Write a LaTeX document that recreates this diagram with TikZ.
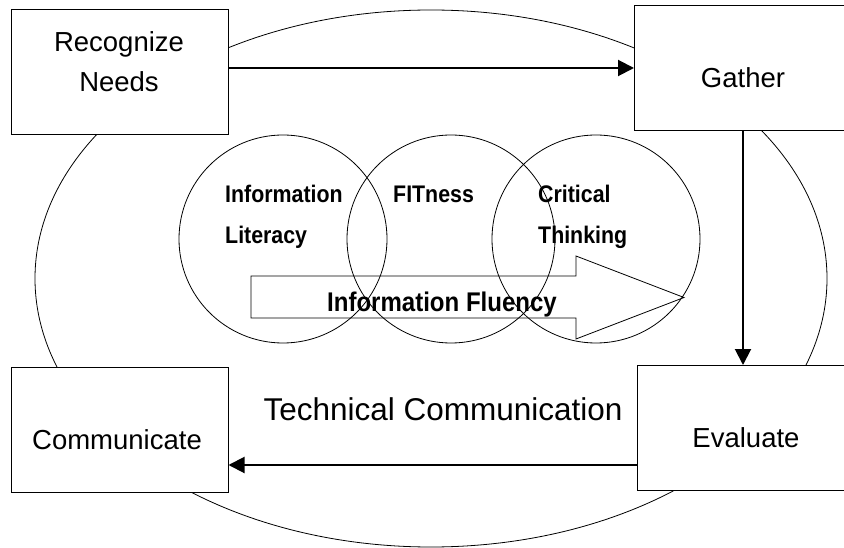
\documentclass[tikz,border=0pt]{standalone}
\usepackage{fontspec}
\setmainfont{Liberation Sans}
\newfontfamily\narrowfont[FakeStretch=0.89]{Liberation Sans Bold}
\usepackage{tikz}
\usetikzlibrary{calc}
\usetikzlibrary{arrows.meta}
\usetikzlibrary{positioning}
\tikzset{>={Triangle[length=16pt, width=16pt]}}
\tikzstyle{stepbox} = [rectangle, draw=black, line width=1pt, fill=white, minimum width=217pt, minimum height=125pt, inner sep=0]
\tikzstyle{boxtext} = [draw=none, inner sep=0, anchor=base, font=\fontsize{27.5}{40}\selectfont]
\tikzstyle{ringtext} = [draw=none, inner sep=0, anchor=base west, align=left, font=\narrowfont\fontsize{24}{41}\selectfont]
\tikzstyle{area} = [circle, draw=black, line width=0.8pt, minimum size=208pt, inner sep=0]
\tikzstyle{flow} = [->, draw=black, line width=2pt]

\begin{document}
\begin{tikzpicture}[x=1pt, y=-1pt]
\useasboundingbox (0,0) rectangle (844,548);
% outer field
\draw [line width=0.8pt] (431,278.5) ellipse [x radius=396, y radius=268.5];
% the three circles
\node [area] (lit) at (283,239) {};
\node [area] (fit) at (451,239) {};
\node [area] (crit) at (596,239) {};
\draw [line width=0.8pt] (251,276) -- (576,276) -- (576,256) -- (684,297.5) -- (576,339) -- (576,318) -- (251,318) -- cycle;
\node [ringtext, text width=130pt] (littext) at (225,203) {Information\\Literacy};
\node [ringtext] (fittext) at (393,203) {FITness};
\node [ringtext, text width=100pt] (crittext) at (538,203) {Critical\\Thinking};
\node [draw=none, inner sep=0, anchor=base, font=\narrowfont\fontsize{27}{32}\selectfont] (fluency) at (442,312) {Information Fluency};
\node [boxtext, font=\fontsize{31.5}{36}\selectfont] (tc) at (443,420) {Technical Communication};
% the four steps
\node [stepbox] (needs) at (119.5,72.5) {};
\node [stepbox] (gather) at (743,68) {};
\node [stepbox] (comm) at (119.5,429.5) {};
\node [stepbox] (eval) at (746,428) {};
\node [boxtext, text width=200pt, align=center] (needstext) at (119,52) {Recognize\\Needs};
\node [boxtext] (gathertext) at (743,88) {Gather};
\node [boxtext] (commtext) at (117,449) {Communicate};
\node [boxtext] (evaltext) at (746,447) {Evaluate};
% cycle
\draw [flow] (needs.east |- gather.west) to (gather.west);
\draw [flow] (gather.south) to (gather.south |- eval.north);
\coordinate (back) at ($(eval.west)+(0,37)$);
\draw [flow] (back) to (back -| comm.east);
\end{tikzpicture}
\end{document}
